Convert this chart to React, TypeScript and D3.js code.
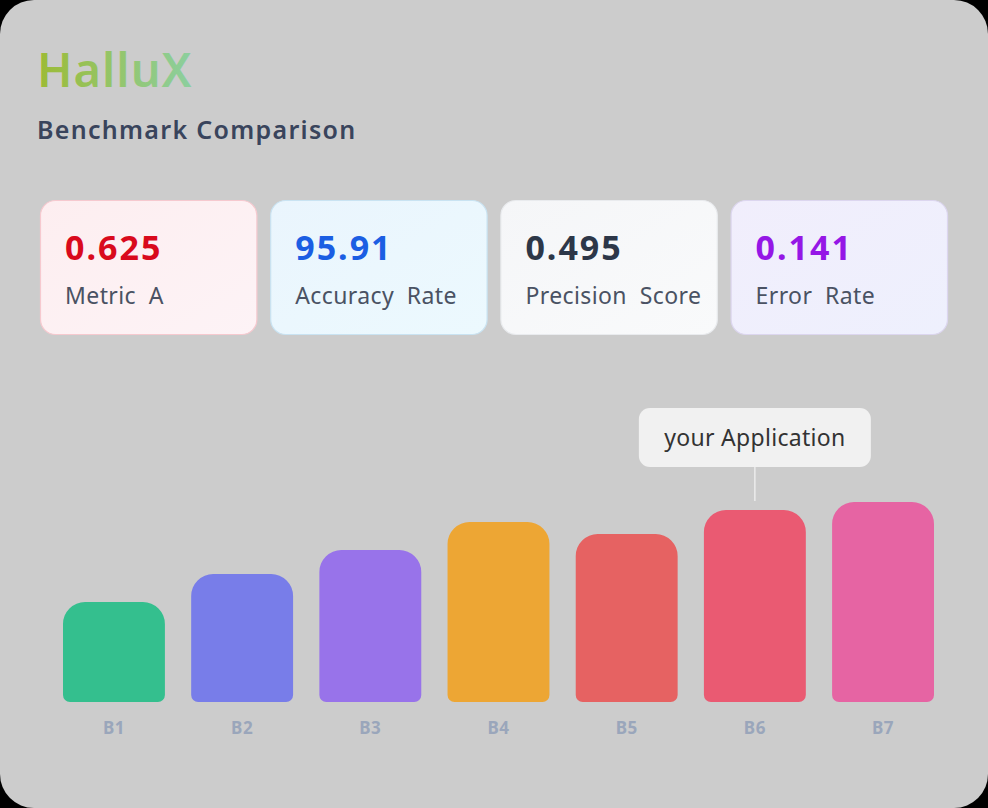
import React from "react";
import * as d3 from "d3";

const categories = ["B1", "B2", "B3", "B4", "B5", "B6", "B7"];
const values = [50, 64, 76, 90, 84, 96, 100];
const barColors = ["#34bf8e", "#787de9", "#9873ea", "#eda634", "#e66262", "#ea5a72", "#e664a3"];
const highlightCategory = "B6";
const highlightLabel = "your Application";

const cardValues = ["0.625", "95.91", "0.495", "0.141"];
const cardLabels = ["Metric  A", "Accuracy  Rate", "Precision  Score", "Error  Rate"];
const cardValueColors = ["#d90a1c", "#1b5ee3", "#2d3748", "#9517e6"];
const cardFillsA = ["#fdeef0", "#eaf5fd", "#f5f6f8", "#f1eefc"];
const cardFillsB = ["#fdf3f6", "#ecf9fe", "#f9fafb", "#eef0fd"];
const cardStrokes = ["#f6c9cf", "#c9e3f2", "#e9ebee", "#dcd6ef"];

const W = 988;
const H = 808;
const FONT = "'Noto Sans', 'Open Sans', sans-serif";

function topRoundedRect(x: number, y: number, w: number, h: number, rt: number, rb: number) {
  const p = d3.path();
  p.moveTo(x, y + rt);
  p.arcTo(x, y, x + rt, y, rt);
  p.lineTo(x + w - rt, y);
  p.arcTo(x + w, y, x + w, y + rt, rt);
  p.lineTo(x + w, y + h - rb);
  p.arcTo(x + w, y + h, x + w - rb, y + h, rb);
  p.lineTo(x + rb, y + h);
  p.arcTo(x, y + h, x, y + h - rb, rb);
  p.closePath();
  return p.toString();
}

export default function App() {
  const x = d3.scaleBand<string>().domain(categories).range([63, 934]).paddingInner(0.205).paddingOuter(0);
  const y = d3.scaleLinear().domain([0, 100]).range([702, 502]);

  const cardX = d3.scaleBand<number>().domain(d3.range(4)).range([40, 947]).paddingInner(0.06);

  const hx = (x(highlightCategory) ?? 0) + x.bandwidth() / 2;
  const hv = values[categories.indexOf(highlightCategory)];

  return (
    <div style={{ position: "fixed", left: 0, top: 0, width: W, height: H, background: "#000" }}>
      <svg width={W} height={H} style={{ display: "block" }}>
        <defs>
          <linearGradient id="titleGrad" x1="0" x2="1" y1="0" y2="0">
            <stop offset="0%" stopColor="#9cbb35" />
            <stop offset="100%" stopColor="#8ccf9f" />
          </linearGradient>
          {cardFillsA.map((c, i) => (
            <linearGradient key={i} id={`cg${i}`} x1="0" y1="0" x2="1" y2="1">
              <stop offset="0%" stopColor={c} />
              <stop offset="100%" stopColor={cardFillsB[i]} />
            </linearGradient>
          ))}
        </defs>
        <rect x={0} y={0} width={W} height={H} rx={34} ry={34} fill="#cccccc" />
        <text x={37} y={87} fontFamily={FONT} fontSize={47} fontWeight={600} letterSpacing={1} fill="url(#titleGrad)">
          HalluX
        </text>
        <text x={37} y={139} fontFamily={FONT} fontSize={25} fontWeight={600} letterSpacing={1.3} fill="#39445c">
          Benchmark Comparison
        </text>

        {cardValues.map((v, i) => {
          const cx = cardX(i) ?? 0;
          return (
            <g key={i}>
              <rect x={cx + 0.5} y={200.5} width={cardX.bandwidth()} height={134} rx={15} fill={`url(#cg${i})`} stroke={cardStrokes[i]} strokeWidth={1.2} />
              <text x={cx + 25} y={260} fontFamily={FONT} fontSize={34} fontWeight={700} letterSpacing={2} fill={cardValueColors[i]}>
                {v}
              </text>
              <text x={cx + 25} y={304} fontFamily={FONT} fontSize={23} letterSpacing={0.4} fill="#4a5263" style={{ whiteSpace: "pre" }}>
                {cardLabels[i]}
              </text>
            </g>
          );
        })}

        {categories.map((c, i) => {
          const bx = x(c) ?? 0;
          const top = y(values[i]);
          return (
            <g key={c}>
              <path d={topRoundedRect(bx, top, x.bandwidth(), y(0) - top, 22, 7)} fill={barColors[i]} />
              <text x={bx + x.bandwidth() / 2} y={734} textAnchor="middle" fontFamily={FONT} fontSize={17} fontWeight={700} letterSpacing={0.5} fill="#9aa6bb">
                {c}
              </text>
            </g>
          );
        })}

        <line x1={hx} x2={hx} y1={467} y2={y(hv) - 9} stroke="#ececec" strokeWidth={1.5} />
        <rect x={hx - 116} y={408} width={232} height={59} rx={11} fill="#f1f1f1" />
        <text x={hx} y={446} textAnchor="middle" fontFamily={FONT} fontSize={23} letterSpacing={0.3} fill="#333">
          {highlightLabel}
        </text>
      </svg>
    </div>
  );
}
